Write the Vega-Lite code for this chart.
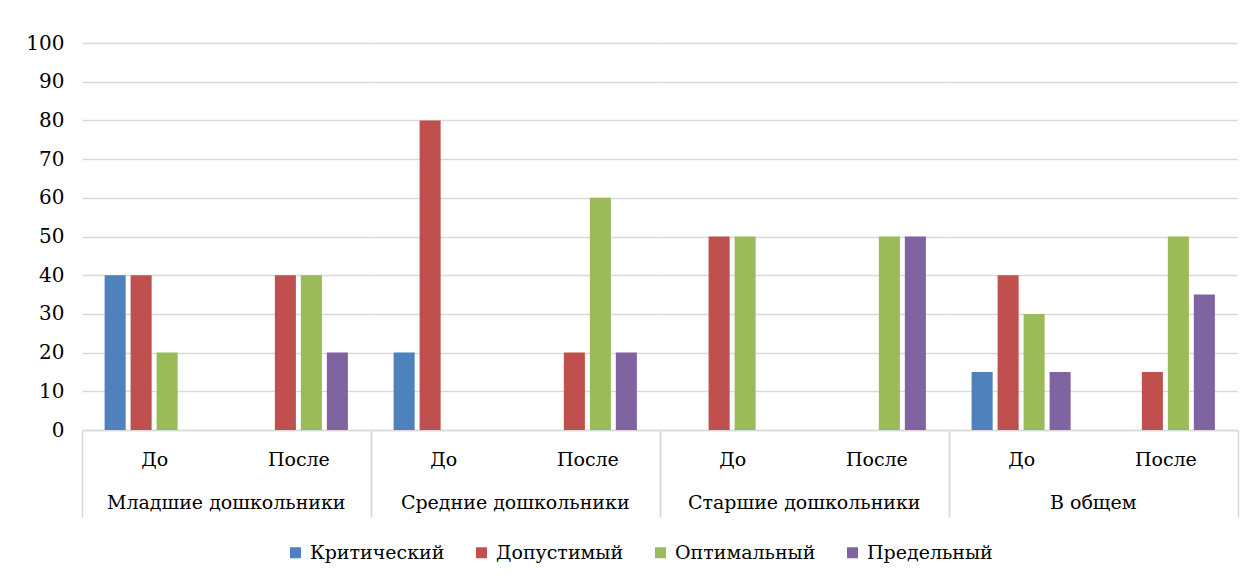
{
  "$schema": "https://vega.github.io/schema/vega-lite/v6.json",
  "padding": {"left": 25, "top": 33, "right": 23, "bottom": 10},
  "background": "white",
  "data": {"values": [
    {"group": "Младшие дошкольники", "period": "До", "level": "Критический", "value": 40},
    {"group": "Младшие дошкольники", "period": "До", "level": "Допустимый", "value": 40},
    {"group": "Младшие дошкольники", "period": "До", "level": "Оптимальный", "value": 20},
    {"group": "Младшие дошкольники", "period": "До", "level": "Предельный", "value": 0},
    {"group": "Младшие дошкольники", "period": "После", "level": "Критический", "value": 0},
    {"group": "Младшие дошкольники", "period": "После", "level": "Допустимый", "value": 40},
    {"group": "Младшие дошкольники", "period": "После", "level": "Оптимальный", "value": 40},
    {"group": "Младшие дошкольники", "period": "После", "level": "Предельный", "value": 20},
    {"group": "Средние дошкольники", "period": "До", "level": "Критический", "value": 20},
    {"group": "Средние дошкольники", "period": "До", "level": "Допустимый", "value": 80},
    {"group": "Средние дошкольники", "period": "До", "level": "Оптимальный", "value": 0},
    {"group": "Средние дошкольники", "period": "До", "level": "Предельный", "value": 0},
    {"group": "Средние дошкольники", "period": "После", "level": "Критический", "value": 0},
    {"group": "Средние дошкольники", "period": "После", "level": "Допустимый", "value": 20},
    {"group": "Средние дошкольники", "period": "После", "level": "Оптимальный", "value": 60},
    {"group": "Средние дошкольники", "period": "После", "level": "Предельный", "value": 20},
    {"group": "Старшие дошкольники", "period": "До", "level": "Критический", "value": 0},
    {"group": "Старшие дошкольники", "period": "До", "level": "Допустимый", "value": 50},
    {"group": "Старшие дошкольники", "period": "До", "level": "Оптимальный", "value": 50},
    {"group": "Старшие дошкольники", "period": "До", "level": "Предельный", "value": 0},
    {"group": "Старшие дошкольники", "period": "После", "level": "Критический", "value": 0},
    {"group": "Старшие дошкольники", "period": "После", "level": "Допустимый", "value": 0},
    {"group": "Старшие дошкольники", "period": "После", "level": "Оптимальный", "value": 50},
    {"group": "Старшие дошкольники", "period": "После", "level": "Предельный", "value": 50},
    {"group": "В общем", "period": "До", "level": "Критический", "value": 15},
    {"group": "В общем", "period": "До", "level": "Допустимый", "value": 40},
    {"group": "В общем", "period": "До", "level": "Оптимальный", "value": 30},
    {"group": "В общем", "period": "До", "level": "Предельный", "value": 15},
    {"group": "В общем", "period": "После", "level": "Критический", "value": 0},
    {"group": "В общем", "period": "После", "level": "Допустимый", "value": 15},
    {"group": "В общем", "period": "После", "level": "Оптимальный", "value": 50},
    {"group": "В общем", "period": "После", "level": "Предельный", "value": 35}
  ]},
  "facet": {
    "column": {
      "field": "group", "type": "nominal",
      "sort": ["Младшие дошкольники", "Средние дошкольники", "Старшие дошкольники", "В общем"],
      "header": {"title": null, "labelOrient": "bottom", "labelFont": "DejaVu Serif", "labelFontSize": 19, "labelColor": "#000000", "labelPadding": -24}
    }
  },
  "spacing": 0,
  "spec": {
    "width": 288.5,
    "height": 387,
    "mark": {"type": "bar"},
    "encoding": {
      "x": {
        "field": "period", "type": "nominal", "sort": ["До", "После"],
        "scale": {"paddingInner": 0, "paddingOuter": 0},
        "axis": {
          "title": null, "labelAngle": 0, "labelFont": "DejaVu Serif", "labelFontSize": 19, "labelColor": "#000000",
          "domainColor": "#d9d9d9", "domainWidth": 1.5,
          "tickBand": "extent", "tickSize": 87, "tickWidth": 1.5,
          "tickColor": {"condition": {"test": "datum.value === 'До'", "value": "transparent"}, "value": "#d9d9d9"},
          "labelPadding": -67
        }
      },
      "xOffset": {
        "field": "level", "type": "nominal",
        "sort": ["Критический", "Допустимый", "Оптимальный", "Предельный"],
        "scale": {"paddingInner": 0.19, "paddingOuter": 0.87}
      },
      "y": {
        "field": "value", "type": "quantitative",
        "scale": {"domain": [0, 100]},
        "axis": {
          "title": null, "values": [0, 10, 20, 30, 40, 50, 60, 70, 80, 90, 100],
          "domain": false, "ticks": false, "labelPadding": 18,
          "labelFont": "DejaVu Serif", "labelFontSize": 20, "labelColor": "#000000",
          "gridColor": "#d9d9d9", "gridWidth": 1.5
        }
      },
      "color": {
        "field": "level", "type": "nominal",
        "sort": ["Критический", "Допустимый", "Оптимальный", "Предельный"],
        "scale": {"domain": ["Критический", "Допустимый", "Оптимальный", "Предельный"], "range": ["#4F81BD", "#C0504D", "#9BBB59", "#8064A2"]},
        "legend": {
          "title": null, "orient": "none", "direction": "horizontal",
          "legendX": 204, "legendY": 500,
          "symbolType": "square", "symbolSize": 121, "symbolStrokeWidth": 0,
          "labelFont": "DejaVu Serif", "labelFontSize": 19, "labelColor": "#000000",
          "columnPadding": 27, "labelOffset": 5
        }
      }
    }
  },
  "config": {"view": {"stroke": null}}
}
